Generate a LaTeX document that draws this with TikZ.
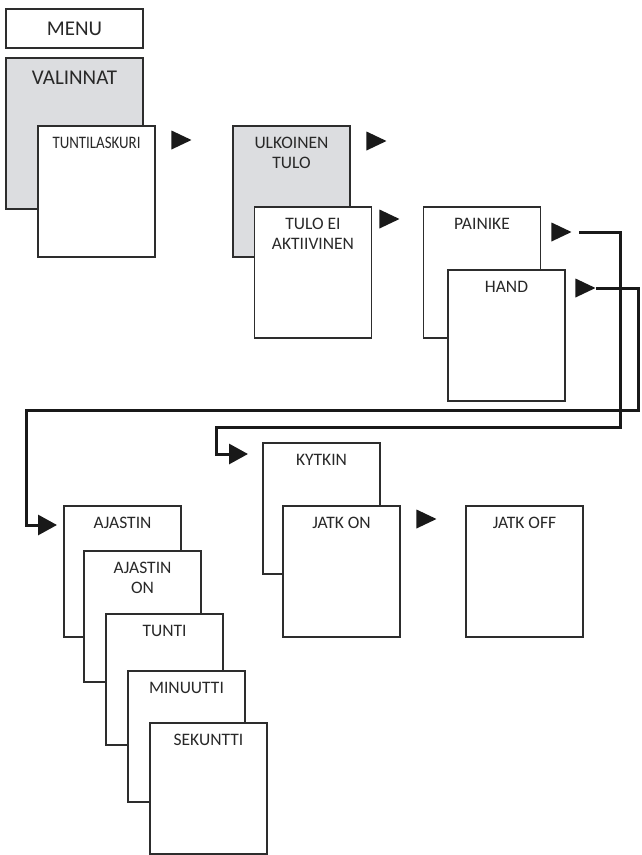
\documentclass[tikz,border=0pt]{standalone}
\usepackage{fontspec}
\setmainfont{Carlito}
\usepackage{tikz}
\usetikzlibrary{shapes.geometric,arrows.meta,positioning,calc}
\definecolor{boxline}{RGB}{45,45,45}
\definecolor{panelgray}{RGB}{220,221,224}
\definecolor{textgray}{RGB}{40,40,40}

\begin{document}
\begin{tikzpicture}[x=1pt, y=-1pt,
        screen/.style={rectangle, draw=boxline, line width=1.3pt, fill=white,
                       minimum width=117pt, minimum height=131pt, inner sep=0pt,
                       label={[lbl]north:{#1}}},
        lbl/.style={anchor=north, yshift=-12pt, inner sep=0pt, align=center,
                    text=textgray, font=\fontsize{17.5}{20}\selectfont},
        bigbox/.style={rectangle, draw=boxline, line width=1.3pt,
                       minimum width=137pt, inner sep=0pt, text=textgray,
                       font=\fontsize{21}{24}\selectfont},
        tri/.style={isosceles triangle, isosceles triangle stretches,
                    fill=black!90, minimum width=19pt, minimum height=20pt,
                    inner sep=0pt, anchor=apex},
        conn/.style={line width=3pt, draw=black!90,
                     -{Triangle[length=19pt,width=20pt]}}]

        \useasboundingbox (0,0) rectangle (641,855);

        % top menu and first level
        \node[bigbox, fill=white, minimum height=39pt] (menu) at (74.5,28.5) {MENU};
        \node[bigbox, fill=panelgray, minimum height=151pt] (valinnat) at (74.5,133.5) {};
        \node[lbl, font=\fontsize{21}{24}\selectfont, yshift=-1pt] (valinnatlbl)
            at (valinnat.north) {VALINNAT};
        \node[screen={\scalebox{0.85}[1]{TUNTILASKURI}}] (tunti0) at (96.5,191.5) {};
        \node[tri] (t1) at (192,140) {};

        % external input
        \node[screen={ULKOINEN\\TULO}, fill=panelgray] (ulkoinen) at (291.5,191.5) {};
        \node[tri] (t2) at (387,141) {};
        \node[screen={TULO EI\\AKTIIVINEN}] (tuloei) at (313,272.5) {};
        \node[tri] (t3) at (400,219) {};

        % button / hand
        \node[screen=PAINIKE] (painike) at (482,272.5) {};
        \node[tri] (t4) at (572,232) {};
        \node[screen=HAND] (hand) at (506.5,335.5) {};
        \node[tri] (t5) at (596,288) {};

        % switch branch
        \node[screen=KYTKIN] (kytkin) at (321.5,508.5) {};
        \node[screen={JATK ON}] (jatkon) at (341.5,571.5) {};
        \node[tri] (t6) at (437,519) {};
        \node[screen={JATK OFF}] (jatkoff) at (524.5,571.5) {};

        % timer stack
        \node[screen=AJASTIN] (ajastin) at (122.5,571.5) {};
        \node[screen={AJASTIN\\ON}] (ajastinon) at (142.5,616.5) {};
        \node[screen=TUNTI] (tunti) at (164.5,679.5) {};
        \node[screen=MINUUTTI] (minuutti) at (186.5,736.5) {};
        \node[screen=SEKUNTTI] (sekuntti) at (208.5,788.5) {};

        % bends of the two connectors
        \coordinate (pRight) at (620,427);
        \coordinate (pLeft) at (216,454);
        \coordinate (kin) at (248,454);
        \coordinate (hRight) at (638,410);
        \coordinate (hLeft) at (26,525);
        \coordinate (ain) at (57,525);

        % PAINIKE -> KYTKIN
        \draw[conn] ([xshift=7pt]t4.apex) -| (pRight) -| (pLeft) -- (kin);

        % HAND -> AJASTIN
        \draw[conn] (t5.apex) -| (hRight) -| (hLeft) -- (ain);

    \end{tikzpicture}
\end{document}
